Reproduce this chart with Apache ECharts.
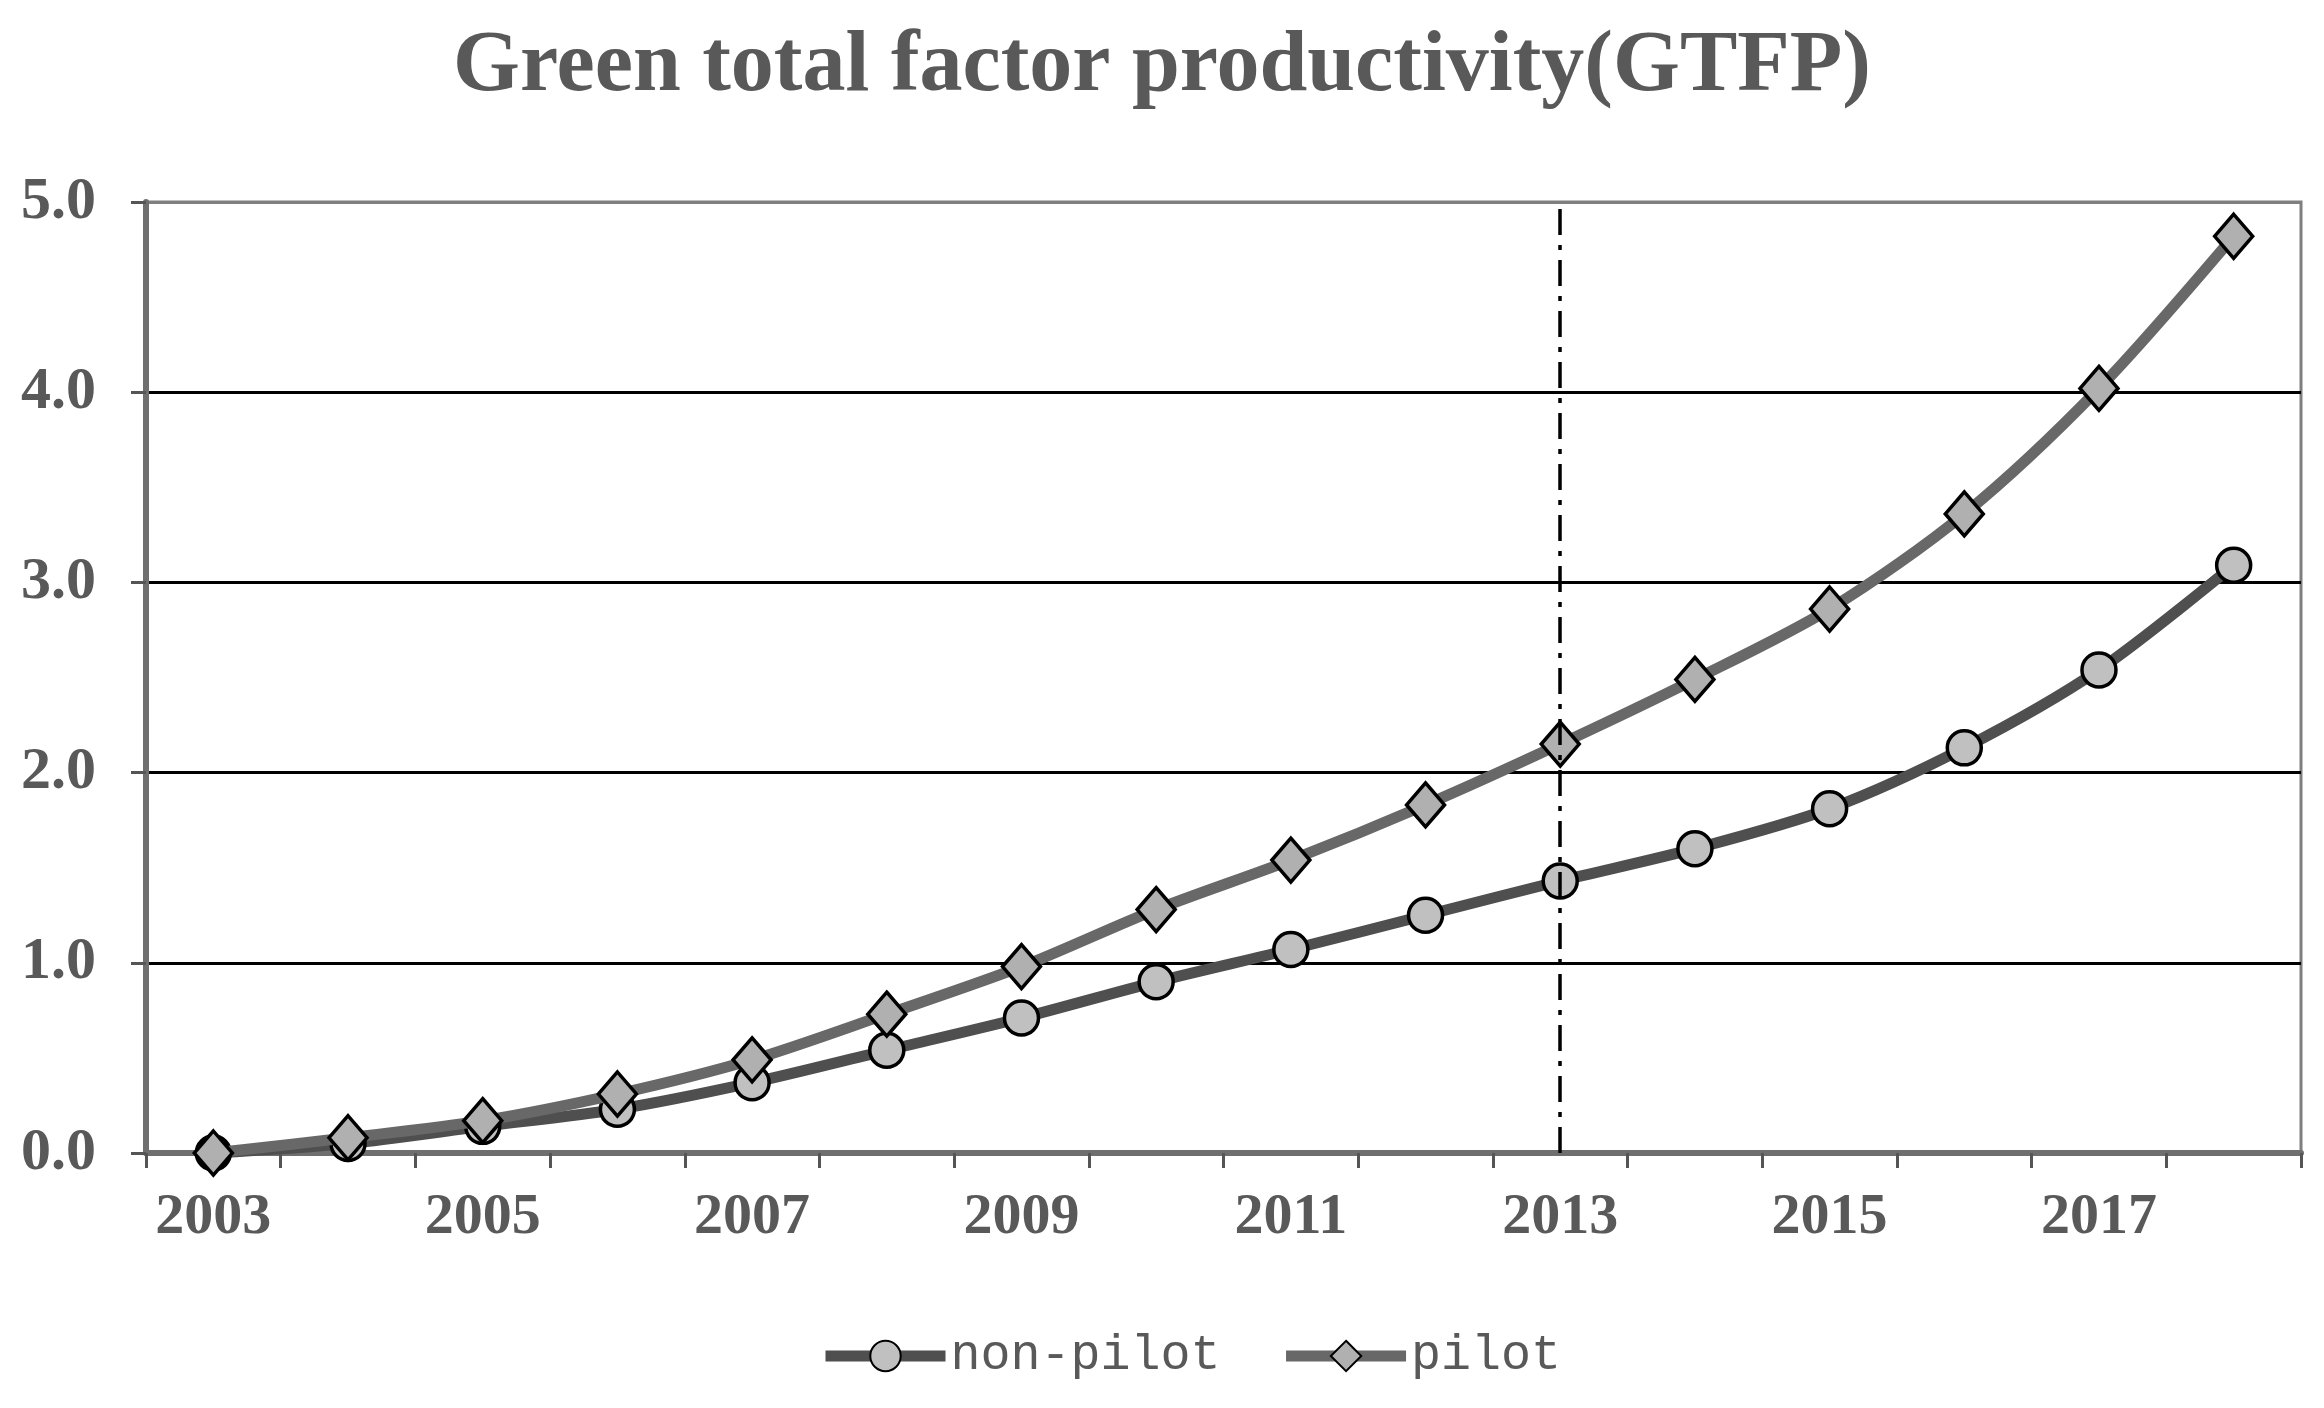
<!DOCTYPE html>
<html>
<head>
<meta charset="utf-8">
<script src="https://cdn.jsdelivr.net/npm/echarts@6/dist/echarts.min.js"></script>
<style>
html,body{margin:0;padding:0;background:#fff;}
#chart{width:2324px;height:1408px;}
</style>
</head>
<body>
<div id="chart"></div>
<script>
const titleText = 'Green total factor productivity(GTFP)';
const years = ['2003','2004','2005','2006','2007','2008','2009','2010','2011','2012','2013','2014','2015','2016','2017','2018'];
const nonPilot = [0.00,0.05,0.14,0.23,0.37,0.54,0.71,0.90,1.07,1.25,1.43,1.60,1.81,2.13,2.54,3.09];
const pilot = [0.00,0.08,0.17,0.31,0.49,0.73,0.98,1.28,1.54,1.83,2.15,2.49,2.86,3.36,4.02,4.82];
const seriesNames = ['non-pilot','pilot'];
const policyYear = '2013';

const chart = echarts.init(document.getElementById('chart'));
const option = {
  backgroundColor: '#fff',
  animation: false,
  title: {
    text: titleText,
    left: 'center',
    top: 20,
    textStyle: {fontFamily: 'Liberation Serif', fontWeight: 'bold', fontSize: 86, color: '#595959'}
  },
  legend: {
    left: 815,
    top: 1326,
    itemWidth: 120,
    itemHeight: 38,
    itemGap: 60,
    lineStyle: {width: 11},
    textStyle: {fontFamily: 'Liberation Mono', fontSize: 50, color: '#595959'},
    data: seriesNames
  },
  grid: {left: 146, right: 23, top: 202, bottom: 255, show: true, borderColor: '#7f7f7f', borderWidth: 3, containLabel: false},
  xAxis: {
    type: 'category',
    data: years,
    boundaryGap: true,
    axisLine: {lineStyle: {color: '#6f6f6f', width: 6}},
    axisTick: {show: true, interval: 0, length: 15, lineStyle: {color: '#555', width: 3}},
    axisLabel: {interval: 1, margin: 36, fontFamily: 'Liberation Serif', fontWeight: 'bold', fontSize: 58, color: '#595959'},
    splitLine: {show: false}
  },
  yAxis: {
    type: 'value',
    min: 0, max: 5, interval: 1,
    axisLine: {show: true, lineStyle: {color: '#6f6f6f', width: 6}},
    axisTick: {show: true, length: 15, lineStyle: {color: '#555', width: 3}},
    axisLabel: {margin: 50, fontFamily: 'Liberation Serif', fontWeight: 'bold', fontSize: 60, color: '#595959', formatter: v => v.toFixed(1)},
    splitLine: {show: true, lineStyle: {color: ['#000','#000','#000','#000','#000','#7f7f7f'], width: 3}}
  },
  series: [
    {
      name: seriesNames[0], type: 'line', data: nonPilot, smooth: 0.3,
      symbol: 'circle', symbolSize: 34,
      lineStyle: {color: '#4f4f4f', width: 11},
      itemStyle: {color: '#c0c0c0', borderColor: '#000', borderWidth: 3.5},
      z: 3
    },
    {
      name: seriesNames[1], type: 'line', data: pilot, smooth: 0.3,
      symbol: 'diamond', symbolSize: [38, 44],
      lineStyle: {color: '#686868', width: 11},
      itemStyle: {color: '#b0b0b0', borderColor: '#000', borderWidth: 3.5},
      z: 4,
      markLine: {
        silent: true, symbol: 'none', label: {show: false},
        lineStyle: {color: '#000', width: 3.5, type: [26, 10, 5, 10]},
        data: [{xAxis: policyYear}]
      }
    }
  ]
};
chart.setOption(option);
</script>
</body>
</html>
